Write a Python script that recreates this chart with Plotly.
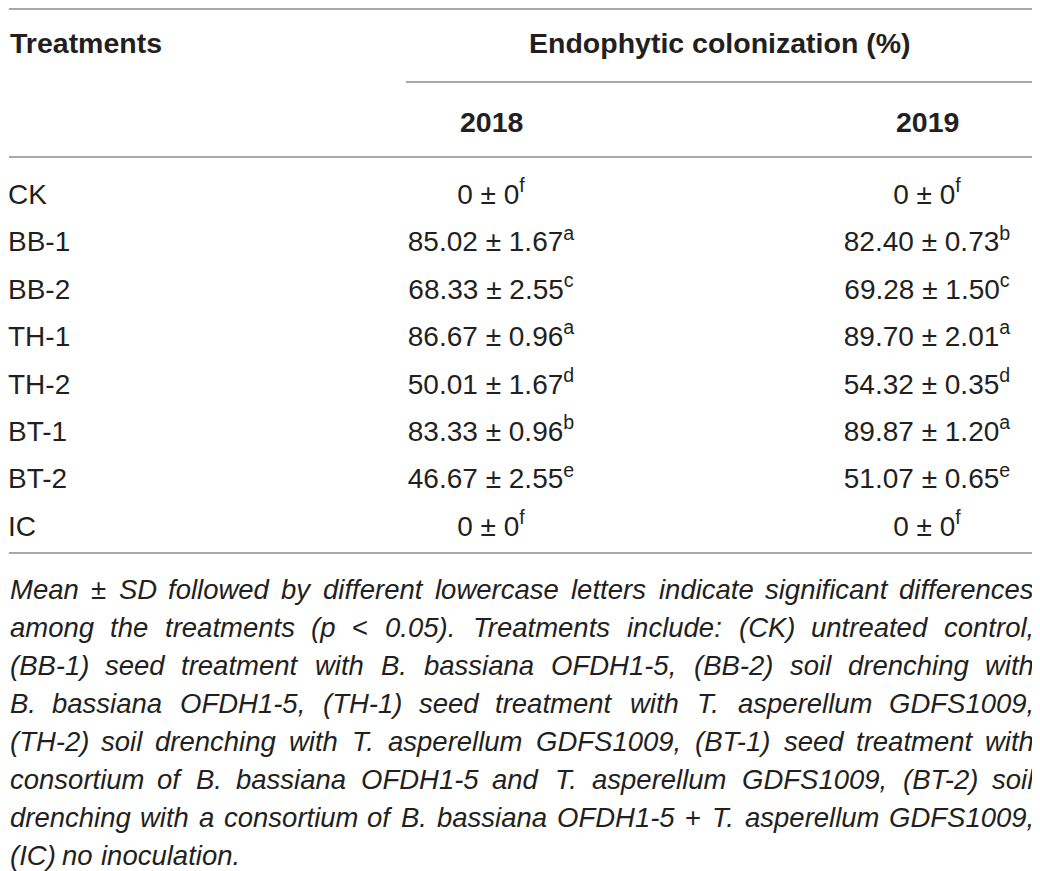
import plotly.graph_objects as go

# table values
treatments = ["CK", "BB-1", "BB-2", "TH-1", "TH-2", "BT-1", "BT-2", "IC"]
mean_2018 = [0, 85.02, 68.33, 86.67, 50.01, 83.33, 46.67, 0]
sd_2018 = [0, 1.67, 2.55, 0.96, 1.67, 0.96, 2.55, 0]
sig_2018 = ["f", "a", "c", "a", "d", "b", "e", "f"]
mean_2019 = [0, 82.40, 69.28, 89.70, 54.32, 89.87, 51.07, 0]
sd_2019 = [0, 0.73, 1.50, 2.01, 0.35, 1.20, 0.65, 0]
sig_2019 = ["f", "b", "c", "a", "d", "a", "e", "f"]
years = ["2018", "2019"]

footnote = [
    "Mean ± SD followed by different lowercase letters indicate significant differences",
    "among the treatments (p < 0.05). Treatments include: (CK) untreated control,",
    "(BB-1) seed treatment with B. bassiana OFDH1-5, (BB-2) soil drenching with",
    "B. bassiana OFDH1-5, (TH-1) seed treatment with T. asperellum GDFS1009,",
    "(TH-2) soil drenching with T. asperellum GDFS1009, (BT-1) seed treatment with",
    "consortium of B. bassiana OFDH1-5 and T. asperellum GDFS1009, (BT-2) soil",
    "drenching with a consortium of B. bassiana OFDH1-5 + T. asperellum GDFS1009,",
    "(IC) no inoculation.",
]

FONT = "Liberation Sans, Arial, sans-serif"
TXT = "#231f20"
RULE = "#8c8c8c"
FS = 28
FS_HEAD = 28.5
FS_NOTE = 27.5


def fmt(m, s, sig):
    if m == 0:
        return "0 ± 0<sup>%s</sup>" % sig
    return "%.2f ± %.2f<sup>%s</sup>" % (m, s, sig)


# arial advance widths, for justifying the footnote
W = {" ": 278, "(": 333, ")": 333, "+": 584, ",": 278, "-": 333, ".": 278,
     ":": 278, "<": 584, "±": 584}
for c in "0123456789":
    W[c] = 556
W.update(dict(zip("ABCDEFGHIJKLMNOPQRSTUVWXYZ",
                  [667, 667, 722, 722, 667, 611, 778, 722, 278, 500, 667, 556, 833,
                   722, 778, 667, 778, 722, 667, 611, 722, 667, 944, 667, 667, 611])))
W.update(dict(zip("abcdefghijklmnopqrstuvwxyz",
                  [556, 556, 500, 556, 556, 278, 556, 556, 222, 222, 500, 222, 833,
                   556, 556, 556, 556, 333, 500, 278, 556, 500, 722, 500, 500, 500])))


def width(s, fs):
    return sum(W.get(c, 556) for c in s) * fs / 1000.0


fig = go.Figure()

LEFT, RIGHT = 9, 1035
row_y = [197 + 47.4 * i for i in range(len(treatments))]
col_x = [491, 927]

fig.add_trace(go.Scatter(
    x=[LEFT - 1] * len(treatments), y=row_y, mode="text", text=treatments,
    textposition="middle right", textfont=dict(family=FONT, size=FS, color=TXT),
    hoverinfo="skip", showlegend=False, cliponaxis=False))
for cx, means, sds, sigs in [(col_x[0], mean_2018, sd_2018, sig_2018),
                             (col_x[1], mean_2019, sd_2019, sig_2019)]:
    fig.add_trace(go.Scatter(
        x=[cx] * len(means), y=row_y, mode="text",
        text=[fmt(m, s, g) for m, s, g in zip(means, sds, sigs)],
        textposition="middle center", textfont=dict(family=FONT, size=FS, color=TXT),
        hoverinfo="skip", showlegend=False, cliponaxis=False))

# headers
hfont = dict(family=FONT, size=FS_HEAD, color=TXT, weight="bold")
anns = [
    dict(x=LEFT, y=43, text="Treatments", xanchor="left", font=hfont),
    dict(x=720, y=43, text="Endophytic colonization (%)", xanchor="center", font=hfont),
]
for cx, yr in zip(col_x, years):
    anns.append(dict(x=cx, y=122, text=yr, xanchor="center", font=hfont))

# footnote, justified word by word (first word left, last word right, rest centred)
for i, line in enumerate(footnote):
    words = line.split(" ")
    ws = [width(w, FS_NOTE) for w in words]
    last_line = i == len(footnote) - 1
    if not last_line:
        gap = (RIGHT - LEFT - sum(ws)) / (len(words) - 1)
    else:
        gap = W[" "] * FS_NOTE / 1000.0
    x = LEFT
    y = 589 + 38.0 * i
    for j, (w, wd) in enumerate(zip(words, ws)):
        upright = w in ("±", "<", "+")
        if j == 0:
            ax, anchor = x, "left"
        elif j == len(words) - 1 and not last_line:
            ax, anchor = RIGHT, "right"
        else:
            ax, anchor = x + wd / 2, "center"
        anns.append(dict(
            x=ax, y=y, text=w.replace("<", "&lt;"), xanchor=anchor,
            font=dict(family=FONT, size=FS_NOTE, color=TXT,
                      style="normal" if upright else "italic")))
        x += wd + gap

for a in anns:
    a.update(xref="x", yref="y", yanchor="middle", showarrow=False, borderpad=0)
fig.update_layout(annotations=anns)

# rules
for x0, y0 in [(LEFT, 9), (406, 82), (LEFT, 157), (LEFT, 553)]:
    fig.add_shape(type="line", x0=x0, x1=RIGHT, y0=y0, y1=y0, xref="x", yref="y",
                  line=dict(color=RULE, width=1.5))

# the page puts the figure 8px in from the corner, so the axes start at 8
fig.update_xaxes(range=[8, 1040], visible=False, fixedrange=True)
fig.update_yaxes(range=[871, 8], visible=False, fixedrange=True)
fig.update_layout(width=1032, height=863, margin=dict(l=0, r=0, t=0, b=0),
                  paper_bgcolor="white", plot_bgcolor="white")

fig.write_html("out.html")
